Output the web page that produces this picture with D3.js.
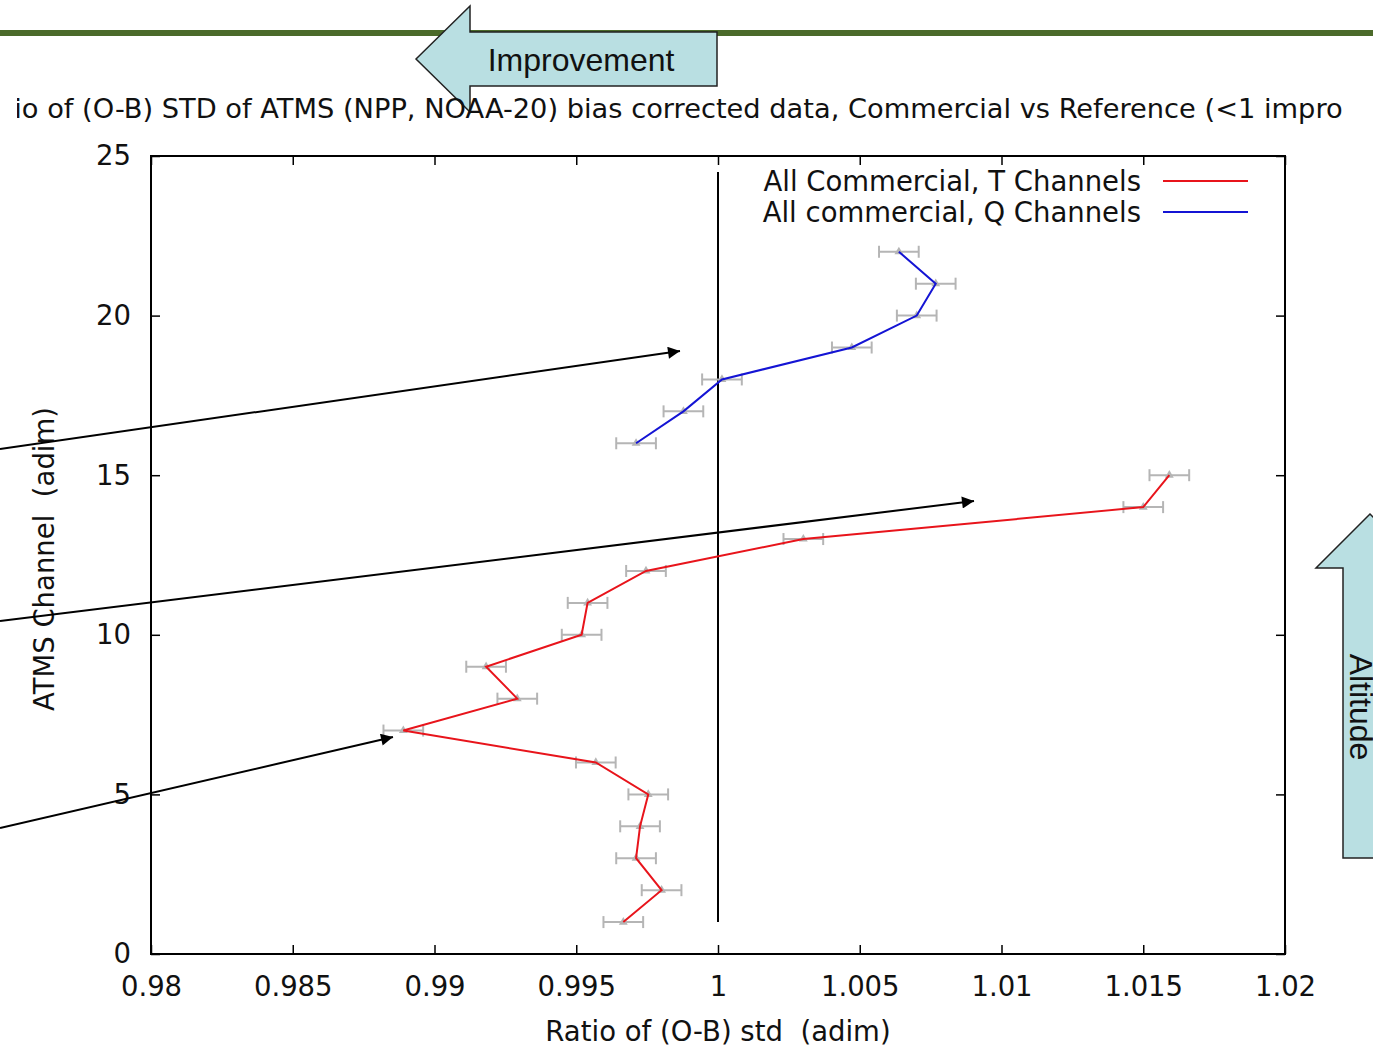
<!DOCTYPE html>
<html>
<head>
<meta charset="utf-8">
<script src="https://cdn.jsdelivr.net/npm/d3@7"></script>
<style>
  body { margin: 0; background: #fff; overflow: hidden; }
  svg { display: block; font-family: "DejaVu Sans", sans-serif; }
  svg text { white-space: pre; }
  .axis path { display: none; }
  .axis line { stroke: #000; stroke-width: 1.5; }
  .axis text { font-size: 27.5px; fill: #111; font-family: "DejaVu Sans", sans-serif; }
</style>
</head>
<body>
<div class="chart"></div>
<script>
// channels and ratio values
var tChannels = [1, 2, 3, 4, 5, 6, 7, 8, 9, 10, 11, 12, 13, 14, 15];
var tRatio = [0.99666, 0.99801, 0.99711, 0.99725, 0.99754, 0.99569, 0.9889, 0.99292, 0.99182, 0.99519, 0.9954, 0.99746, 1.00301, 1.015, 1.01592];
var qChannels = [16, 17, 18, 19, 20, 21, 22];
var qRatio = [0.99711, 0.99878, 1.00014, 1.00472, 1.00701, 1.00768, 1.00638];
var errHalf = 0.0007;

var xTicks = [0.98, 0.985, 0.99, 0.995, 1, 1.005, 1.01, 1.015, 1.02];
var xTickLabels = ["0.98", "0.985", "0.99", "0.995", "1", "1.005", "1.01", "1.015", "1.02"];
var yTicks = [0, 5, 10, 15, 20, 25];
var yTickLabels = ["0", "5", "10", "15", "20", "25"];

var refLine = [{ x: 1, y: 1 }, { x: 1, y: 24.5 }];

var seriesNames = ["All Commercial, T Channels", "All commercial, Q Channels"];
var seriesColors = ["#e8141b", "#1414d4"];

var titleText = "Ratio of (O-B) STD of ATMS (NPP, NOAA-20) bias corrected data, Commercial vs Reference (<1 improvement)";

var svgWidth = 1373;
var svgHeight = 1046;
var margin = { top: 156, right: 88, bottom: 92, left: 151 };
var width = svgWidth - margin.left - margin.right;
var height = svgHeight - margin.top - margin.bottom;

var svg = d3.select(".chart")
    .append("svg")
    .attr("width", svgWidth)
    .attr("height", svgHeight);

var defs = svg.append("defs");

// green rule across the slide top
svg.append("rect")
    .attr("x", 0).attr("y", 30)
    .attr("width", svgWidth).attr("height", 6)
    .attr("fill", "#4b6a2a");

var chart = svg.append("g")
    .attr("transform", "translate(" + margin.left + "," + margin.top + ")");

var xScale = d3.scaleLinear().domain([0.98, 1.02]).range([0, width]);
var yScale = d3.scaleLinear().domain([0, 25]).range([height, 0]);

// axes, ticks inside on all four sides
chart.append("g")
    .attr("class", "axis")
    .attr("transform", "translate(0," + height + ")")
    .call(d3.axisBottom(xScale).tickValues(xTicks).tickSize(-9).tickPadding(22)
        .tickFormat((d, i) => xTickLabels[i]));
chart.append("g")
    .attr("class", "axis")
    .call(d3.axisTop(xScale).tickValues(xTicks).tickSize(-9).tickFormat(""));
chart.append("g")
    .attr("class", "axis")
    .call(d3.axisLeft(yScale).tickValues(yTicks).tickSize(-9).tickPadding(20)
        .tickFormat((d, i) => yTickLabels[i]));
chart.append("g")
    .attr("class", "axis")
    .attr("transform", "translate(" + width + ",0)")
    .call(d3.axisRight(yScale).tickValues(yTicks).tickSize(-9).tickFormat(""));

chart.append("rect")
    .attr("width", width).attr("height", height)
    .attr("fill", "none").attr("stroke", "#000").attr("stroke-width", 2);

// reference line at ratio = 1
var line = d3.line().x(d => xScale(d.x)).y(d => yScale(d.y));
chart.append("path")
    .datum(refLine)
    .attr("d", line)
    .attr("fill", "none")
    .attr("stroke", "#000")
    .attr("stroke-width", 2);

var tData = tChannels.map((c, i) => ({ x: tRatio[i], y: c }));
var qData = qChannels.map((c, i) => ({ x: qRatio[i], y: c }));
var allData = tData.concat(qData);

// error bars
var eb = chart.append("g").attr("stroke", "#b5b5b5").attr("stroke-width", 2);
eb.selectAll(".ebar")
    .data(allData)
    .enter()
    .append("line")
    .attr("x1", d => xScale(d.x - errHalf))
    .attr("x2", d => xScale(d.x + errHalf))
    .attr("y1", d => yScale(d.y))
    .attr("y2", d => yScale(d.y));
eb.selectAll(".capL")
    .data(allData)
    .enter()
    .append("line")
    .attr("x1", d => xScale(d.x - errHalf))
    .attr("x2", d => xScale(d.x - errHalf))
    .attr("y1", d => yScale(d.y) - 6)
    .attr("y2", d => yScale(d.y) + 6);
eb.selectAll(".capR")
    .data(allData)
    .enter()
    .append("line")
    .attr("x1", d => xScale(d.x + errHalf))
    .attr("x2", d => xScale(d.x + errHalf))
    .attr("y1", d => yScale(d.y) - 6)
    .attr("y2", d => yScale(d.y) + 6);

chart.selectAll(".pt")
    .data(allData)
    .enter()
    .append("path")
    .attr("d", d3.symbol(d3.symbolTriangle, 34))
    .attr("transform", d => "translate(" + xScale(d.x) + "," + yScale(d.y) + ")")
    .attr("fill", "#b5b5b5");

[tData, qData].forEach((data, i) => {
    chart.append("path")
        .datum(data)
        .attr("d", line)
        .attr("fill", "none")
        .attr("stroke", seriesColors[i])
        .attr("stroke-width", 2);
});

// legend
seriesNames.forEach((name, i) => {
    var ly = 25 + i * 31;
    chart.append("text")
        .attr("x", 990).attr("y", ly + 10)
        .attr("text-anchor", "end")
        .attr("font-size", 27.5)
        .attr("fill", "#111")
        .text(name);
    chart.append("line")
        .attr("x1", 1012).attr("x2", 1097)
        .attr("y1", ly).attr("y2", ly)
        .attr("stroke", seriesColors[i])
        .attr("stroke-width", 2);
});

// axis titles
chart.append("text")
    .attr("transform", "rotate(-90)")
    .attr("x", -(height / 2) - 4)
    .attr("y", -97)
    .attr("text-anchor", "middle")
    .attr("font-size", 27.5)
    .attr("fill", "#111")
    .text("ATMS Channel  (adim)");
chart.append("text")
    .attr("x", width / 2)
    .attr("y", height + 87)
    .attr("text-anchor", "middle")
    .attr("font-size", 27.5)
    .attr("fill", "#111")
    .text("Ratio of (O-B) std  (adim)");

// slide annotation arrows
defs.append("marker")
    .attr("id", "head")
    .attr("viewBox", "0 0 10 10")
    .attr("refX", 10).attr("refY", 5)
    .attr("markerWidth", 8).attr("markerHeight", 6)
    .attr("markerUnits", "strokeWidth")
    .attr("orient", "auto")
    .append("path")
    .attr("d", "M0,0 L10,5 L0,10 z")
    .attr("fill", "#000");

var pointers = [[0, 449, 680, 351], [0, 621, 974, 501], [0, 828, 393, 737]];
svg.selectAll(".pointer")
    .data(pointers)
    .enter()
    .append("line")
    .attr("x1", d => d[0]).attr("y1", d => d[1])
    .attr("x2", d => d[2]).attr("y2", d => d[3])
    .attr("stroke", "#000")
    .attr("stroke-width", 2)
    .attr("marker-end", "url(#head)");

// Improvement block arrow
svg.append("path")
    .attr("d", "M416,59 L470,6 L470,32 L717,32 L717,86 L470,86 L470,112 Z")
    .attr("fill", "#b9dfe2")
    .attr("stroke", "#222")
    .attr("stroke-width", 1.5);
svg.append("text")
    .attr("x", 581).attr("y", 71)
    .attr("text-anchor", "middle")
    .attr("font-family", "Liberation Sans, Arial, sans-serif")
    .attr("font-size", 32)
    .attr("fill", "#111")
    .text("Improvement");

// Altitude block arrow
svg.append("path")
    .attr("d", "M1370,514 L1424,568 L1397,568 L1397,858 L1343,858 L1343,568 L1316,568 Z")
    .attr("fill", "#b9dfe2")
    .attr("stroke", "#222")
    .attr("stroke-width", 1.5);
svg.append("text")
    .attr("transform", "translate(1350,707) rotate(90)")
    .attr("text-anchor", "middle")
    .attr("font-family", "Liberation Sans, Arial, sans-serif")
    .attr("font-size", 32)
    .attr("fill", "#111")
    .text("Altitude");

// chart title, cropped on both sides as in the slide
defs.append("clipPath")
    .attr("id", "titleClip")
    .append("rect")
    .attr("x", 17).attr("y", 85)
    .attr("width", 1326).attr("height", 45);
svg.append("text")
    .attr("clip-path", "url(#titleClip)")
    .attr("x", 713).attr("y", 118)
    .attr("text-anchor", "middle")
    .attr("font-size", 27.25)
    .attr("fill", "#111")
    .text(titleText);
</script>
</body>
</html>
